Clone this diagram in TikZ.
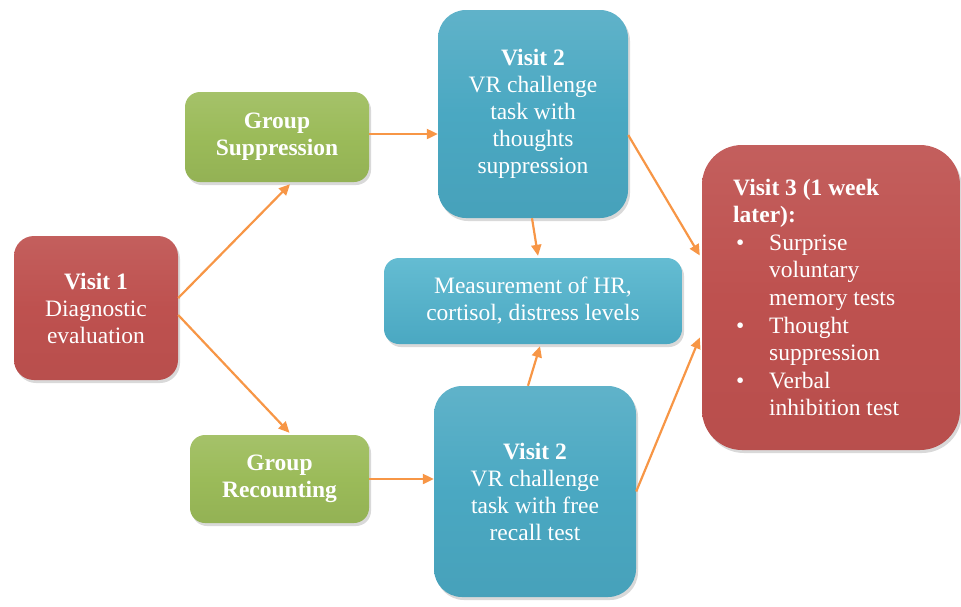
\documentclass[tikz,border=0pt]{standalone}
\usepackage{fontspec}
\setmainfont{Liberation Serif}
\usetikzlibrary{arrows.meta,shadows}
\definecolor{cred}{HTML}{BE514F}
\definecolor{cgreen}{HTML}{9BBB59}
\definecolor{cblue}{HTML}{4AA8C2}
\definecolor{cblueL}{HTML}{4FB3CC}
\definecolor{corange}{HTML}{F79646}
\begin{document}
\begin{tikzpicture}[x=1pt,y=-1pt,
  box/.style={draw=none, text=white, align=center, inner sep=0pt,
    font=\fontsize{23.5}{27}\selectfont,
    drop shadow={opacity=0.3, shadow xshift=2pt, shadow yshift=-3pt}},
  redbox/.style={box, top color=cred!92!white, bottom color=cred!97!black, middle color=cred},
  greenbox/.style={box, top color=cgreen!90!white, bottom color=cgreen!95!black, middle color=cgreen},
  bluebox/.style={box, top color=cblue!88!white, bottom color=cblue!96!black, middle color=cblue},
  arr/.style={draw=corange, line width=2.2pt, -{Triangle[length=11pt,width=10pt]}}]
\useasboundingbox (0,0) rectangle (961,606);
\node[redbox, rounded corners=20pt, minimum width=164pt, minimum height=144pt] (v1) at (96,308)
  {\textbf{Visit 1}\\Diagnostic\\evaluation};
\node[greenbox, rounded corners=15pt, minimum width=184pt, minimum height=90pt] (gs) at (277,137)
  {\textbf{Group}\\\textbf{Suppression}};
\node[greenbox, rounded corners=15pt, minimum width=179pt, minimum height=88pt] (gr) at (279.5,479)
  {\textbf{Group}\\\textbf{Recounting}};
\node[bluebox, rounded corners=28pt, minimum width=190pt, minimum height=208pt] (v2a) at (533,114)
  {\textbf{Visit 2}\\VR challenge\\task with\\thoughts\\suppression};
\node[bluebox, top color=cblueL!88!white, middle color=cblueL, bottom color=cblue, rounded corners=15pt, minimum width=298pt, minimum height=86pt] (meas) at (533,301)
  {Measurement of HR,\\cortisol, distress levels};
\node[bluebox, rounded corners=28pt, minimum width=202pt, minimum height=211pt] (v2b) at (535,491.5)
  {\textbf{Visit 2}\\VR challenge\\task with free\\recall test};
\node[redbox, rounded corners=40pt, minimum width=258pt, minimum height=305pt] (v3) at (831,297.5) {};
\node[text=white, align=left, anchor=west, inner sep=0pt, font=\fontsize{23.5}{27.6}\selectfont] (v3t) at (733,297.5)
  {\textbf{Visit 3 (1 week}\\\textbf{later):}\\
   \hspace*{3pt}\makebox[33pt][l]{\textbullet}Surprise\\
   \hspace*{36pt}voluntary\\
   \hspace*{36pt}memory tests\\
   \hspace*{3pt}\makebox[33pt][l]{\textbullet}Thought\\
   \hspace*{36pt}suppression\\
   \hspace*{3pt}\makebox[33pt][l]{\textbullet}Verbal\\
   \hspace*{36pt}inhibition test};
\draw[arr] ([yshift=10pt]v1.east) -- ([xshift=13pt,yshift=-2pt]gs.south);
\draw[arr] ([yshift=-7pt]v1.east) -- ([xshift=10pt,yshift=2pt]gr.north);
\draw[arr] ([yshift=3pt]gs.east) -- ([yshift=3pt]gs.east -| v2a.west);
\draw[arr] (gr.east) -- (gr.east -| v2b.west);
\draw[arr] ([xshift=-1pt]v2a.south) -- ([xshift=5pt,yshift=2pt]meas.north);
\draw[arr] ([xshift=-7pt]v2b.north) -- ([xshift=7pt,yshift=-2pt]meas.south);
\draw[arr] ([yshift=-21pt]v2a.east) -- ([xshift=-2pt,yshift=42pt]v3.west);
\draw[arr] (v2b.east) -- ([xshift=-2pt,yshift=-40pt]v3.west);
\end{tikzpicture}
\end{document}
